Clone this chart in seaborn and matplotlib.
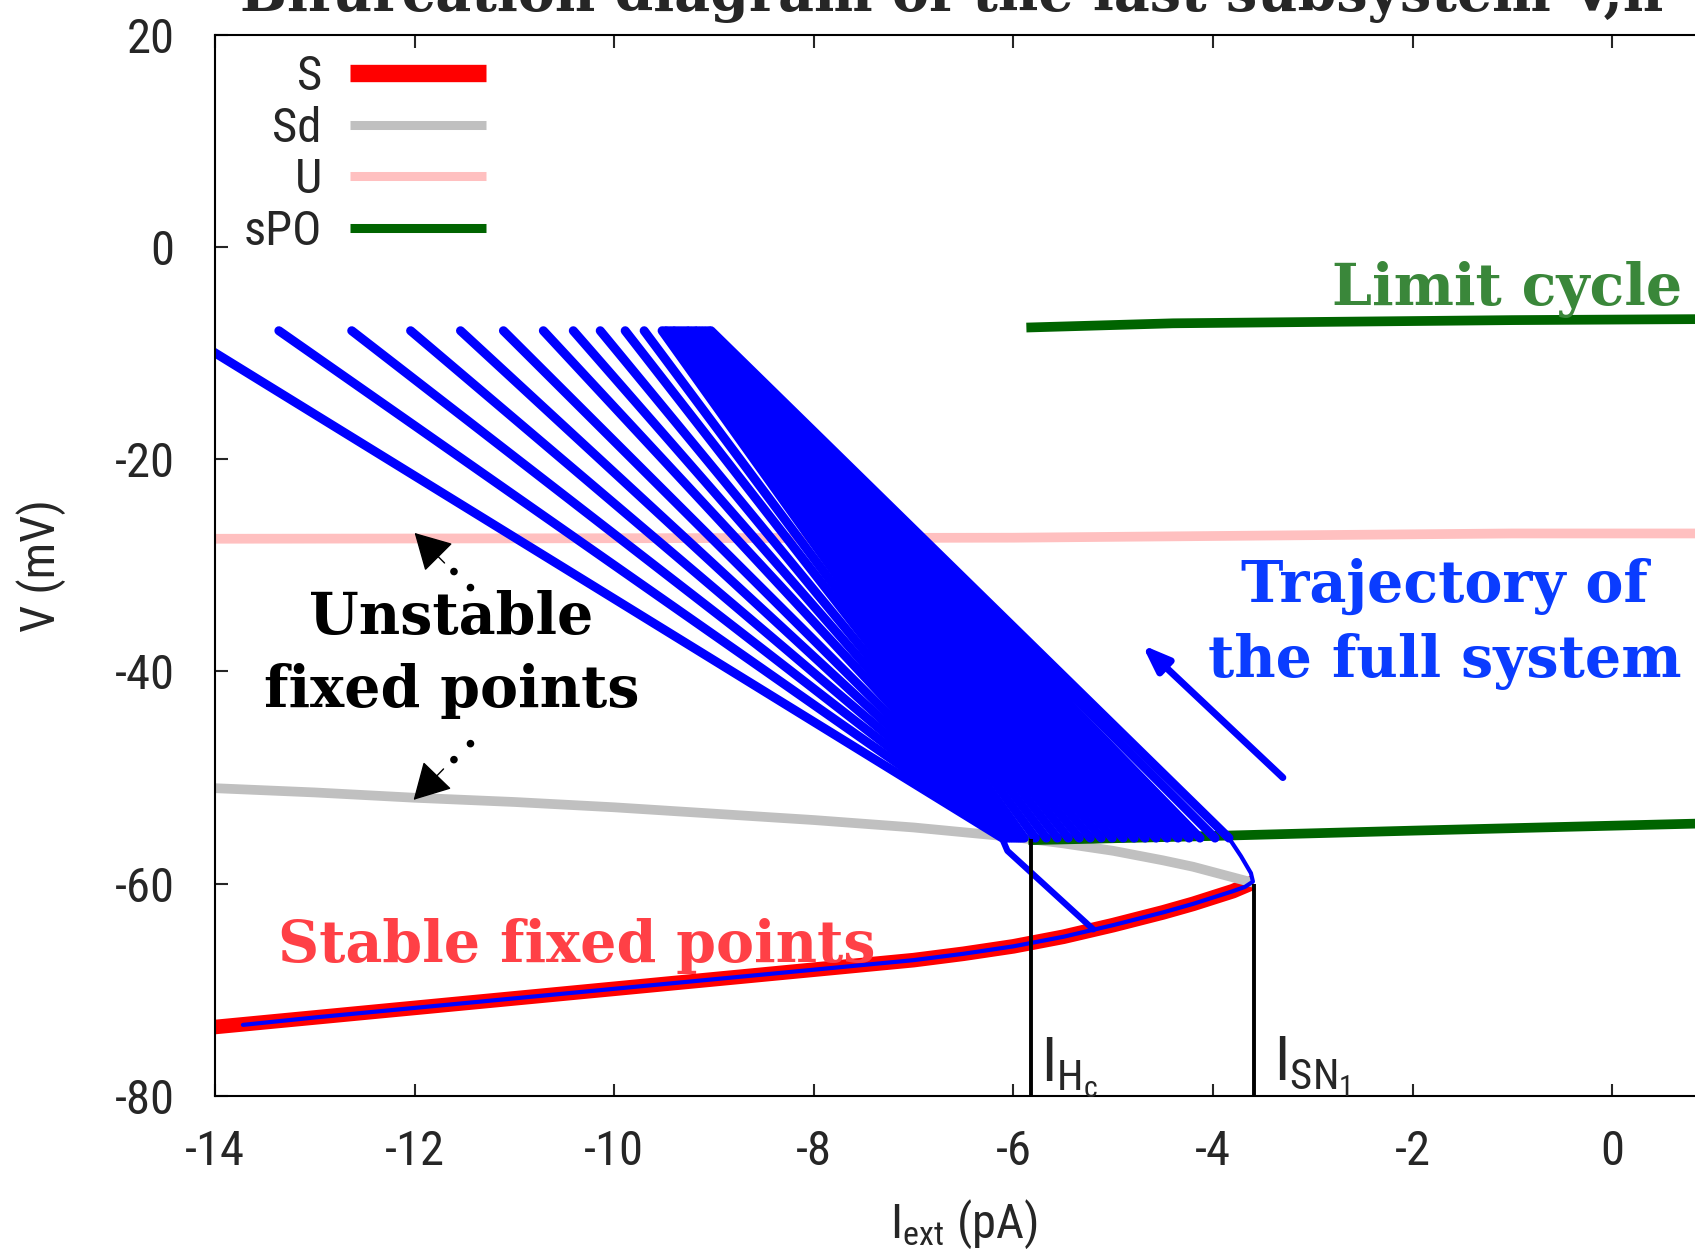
import numpy as np
import pandas as pd
import matplotlib
matplotlib.use('Agg')
import matplotlib.pyplot as plt
import seaborn as sns
from matplotlib import font_manager

# bifurcation branches of the fast subsystem (I_ext in pA, V in mV)
s_I = [-14.0, -13.0, -12.0, -11.0, -10.0, -9.0, -8.0, -7.0, -6.5, -6.0, -5.5, -5.0, -4.5, -4.2, -4.0, -3.8, -3.7, -3.6]
s_V = [-73.5, -72.6, -71.7, -70.8, -69.9, -69.0, -68.1, -67.2, -66.6, -65.9, -65.0, -63.9, -62.7, -61.9, -61.3, -60.7, -60.3, -59.9]
sd_I = [-14.0, -13.0, -12.0, -11.0, -10.0, -9.0, -8.0, -7.0, -6.0, -5.5, -5.0, -4.5, -4.2, -4.0, -3.8, -3.6]
sd_V = [-51.0, -51.4, -51.9, -52.3, -52.8, -53.4, -54.0, -54.7, -55.6, -56.2, -56.9, -57.8, -58.4, -58.9, -59.4, -59.9]
u_I = [-14.0, -6.0, -1.0, 1.0]
u_V = [-27.5, -27.4, -27.0, -27.0]
spo_max_I = [-5.87, -4.4, -1.0, 1.0]
spo_max_V = [-7.6, -7.2, -6.9, -6.8]
spo_min_I = [-5.85, -4.0, -2.0, 1.0]
spo_min_V = [-55.9, -55.5, -55.0, -54.3]

# trajectory of the full system: spike sweeps (top -> bottom)
spike_top_V = -7.9
spike_bot_V = -55.7
spike_top_I = [-14.36, -13.36, -12.63, -12.04, -11.54, -11.11, -10.71, -10.41, -10.14, -9.89, -9.70,
               -9.52, -9.49, -9.47, -9.44, -9.41, -9.39, -9.36, -9.33, -9.30, -9.27,
               -9.25, -9.22, -9.19, -9.17, -9.14, -9.11, -9.08, -9.05, -9.03]
spike_bot_I = [-6.11, -6.09, -6.07, -6.05, -6.03, -6.01, -5.99, -5.97, -5.95, -5.93, -5.91,
               -5.89, -5.78, -5.67, -5.56, -5.45, -5.34, -5.23, -5.12, -5.01, -4.90,
               -4.79, -4.68, -4.57, -4.46, -4.35, -4.24, -4.13, -3.98, -3.84]
# silent phase along the stable branch, then the jump up
silent_I = [-13.72, -13.0, -12.0, -11.0, -10.0, -9.0, -8.0, -7.0, -6.5, -6.0, -5.5, -5.0, -4.5, -4.2, -4.0, -3.8, -3.68, -3.6, -3.62, -3.72, -3.84]
silent_V = [-73.3, -72.6, -71.7, -70.8, -69.9, -69.0, -68.1, -67.2, -66.6, -65.9, -65.0, -63.9, -62.7, -61.9, -61.3, -60.7, -60.3, -59.8, -59.0, -57.4, -55.7]
# fall from the last spike back to the stable branch
drop_I = [-6.11, -6.06, -5.2]
drop_V = [-55.8, -56.9, -64.3]

# bifurcation points
hc_I, hc_V = -5.82, -55.8
sn_I, sn_V = -3.59, -60.0

# annotation anchors
unstable_tip = [(-12.0, -26.95), (-12.01, -52.1)]
unstable_tail = [(-11.44, -32.1), (-11.44, -46.8)]
traj_arrow_tail = (-3.30, -50.0)
traj_arrow_head = (-4.71, -37.5)

names = {f.name for f in font_manager.fontManager.ttflist}
sans = next((f for f in ['Liberation Sans Narrow', 'Roboto Condensed', 'Liberation Sans'] if f in names),
            'DejaVu Sans')

sns.set_style('ticks')
plt.rcParams['font.family'] = [sans, 'DejaVu Sans']
plt.rcParams['axes.unicode_minus'] = False
plt.rcParams['axes.edgecolor'] = 'black'
plt.rcParams['axes.linewidth'] = 1.5

fig = plt.figure(figsize=(16.95, 12.5), dpi=100)
ax = fig.add_axes([215 / 1695, 154 / 1250, 1497 / 1695, 1061.4 / 1250])

sns.lineplot(x=s_I, y=s_V, sort=False, estimator=None, color='#ff0000', lw=10.5,
             solid_capstyle='butt', label='S', ax=ax)
sns.lineplot(x=sd_I, y=sd_V, sort=False, estimator=None, color='#c0c0c0', lw=7,
             solid_capstyle='butt', label='Sd', ax=ax)
sns.lineplot(x=u_I, y=u_V, sort=False, estimator=None, color='#ffc0c0', lw=7,
             solid_capstyle='butt', label='U', ax=ax)
sns.lineplot(x=spo_max_I, y=spo_max_V, sort=False, estimator=None, color='#006400', lw=7,
             solid_capstyle='butt', label='sPO', ax=ax)
sns.lineplot(x=spo_min_I, y=spo_min_V, sort=False, estimator=None, color='#006400', lw=7,
             solid_capstyle='butt', ax=ax)

n = len(spike_top_I)
spikes = pd.DataFrame({
    'I': np.column_stack([spike_top_I, spike_bot_I]).ravel(),
    'V': np.tile([spike_top_V, spike_bot_V], n),
    'seg': np.repeat(np.arange(n), 2),
})
sns.lineplot(data=spikes, x='I', y='V', units='seg', estimator=None, sort=False,
             color='#0000ff', lw=6.5, solid_capstyle='round', legend=False, ax=ax)
sns.lineplot(x=silent_I, y=silent_V, sort=False, estimator=None, color='#0000ff', lw=3,
             legend=False, ax=ax)
sns.lineplot(x=drop_I, y=drop_V, sort=False, estimator=None, color='#0000ff', lw=4.5,
             solid_capstyle='round', legend=False, ax=ax)

ax.vlines([hc_I, sn_I], -80, [hc_V, sn_V], colors='black', lw=2.8, zorder=5)

ax.set_xlim(-14, 1)
ax.set_ylim(-80, 20)
ax.set_xticks(range(-14, 1, 2))
ax.set_yticks(range(-80, 21, 20))
ax.tick_params(direction='in', length=9, width=1.5, top=True, right=True, labelsize=35)
ax.tick_params(axis='x', pad=24)
ax.tick_params(axis='y', pad=29)
ax.set_xlabel(r'$\mathregular{I_{ext}}$ (pA)', fontsize=35)
ax.set_ylabel('V (mV)', fontsize=35)
ax.xaxis.set_label_coords(0.5, -0.096)
ax.yaxis.set_label_coords(-0.0997, 0.5)

leg = ax.legend(loc='upper left', bbox_to_anchor=(0.019, 0.982), markerfirst=False, frameon=False,
                fontsize=35, handlelength=2.8, handletextpad=0.58, labelspacing=0.12,
                borderaxespad=0, borderpad=0)
leg.get_lines()[0].set_linewidth(12.5)
for line in leg.get_lines()[1:]:
    line.set_linewidth(6.5)

# vertical markers
ax.text(hc_I + 0.1, -78.6, r'$\mathregular{I_{H_c}}$', fontsize=44, ha='left', va='baseline')
ax.text(sn_I + 0.2, -78.6, r'$\mathregular{I_{SN_1}}$', fontsize=44, ha='left', va='baseline')

serif = dict(family='DejaVu Serif', fontweight='bold', fontsize=41)
ax.text(-11.63, -38.4, 'Unstable\nfixed points', ha='center', va='center', linespacing=1.4,
        color='black', **serif)
ax.text(-13.37, -67.4, 'Stable fixed points', ha='left', va='baseline', color='#ff4046', **serif)
ax.text(-2.81, -5.46, 'Limit cycle', ha='left', va='baseline', color='#3a873a', **serif)
ax.text(-1.68, -33.46, 'Trajectory of', ha='center', va='baseline', color='#0a3cff', **serif)
ax.text(-1.68, -40.5, 'the full system', ha='center', va='baseline', color='#0a3cff', **serif)

for tip, tail in zip(unstable_tip, unstable_tail):
    ax.plot([tail[0], tip[0] + 0.25], [tail[1], tip[1] + (tail[1] - tip[1]) * 0.45],
            color='black', lw=5.5, linestyle=(0, (0.01, 3)), solid_capstyle='round',
            dash_capstyle='round')
    ax.annotate('', xy=tip, xytext=(tip[0] + 0.3, tip[1] + (tail[1] - tip[1]) * 0.55),
                arrowprops=dict(arrowstyle='-|>,head_length=1.15,head_width=0.64',
                                color='black', lw=1, mutation_scale=20, shrinkA=0, shrinkB=0))

ax.annotate('', xy=traj_arrow_head, xytext=traj_arrow_tail,
            arrowprops=dict(arrowstyle='-|>,head_length=0.8,head_width=0.3', color='#0000ff',
                            lw=5, mutation_scale=20, shrinkA=0, shrinkB=0))

fig.text(240 / 1695, 1 - 11 / 1250, 'Bifurcation diagram of the last subsystem V,n',
         ha='left', va='baseline', family='DejaVu Serif', fontweight='bold', fontsize=40)

fig.savefig('out.png', dpi=100)
